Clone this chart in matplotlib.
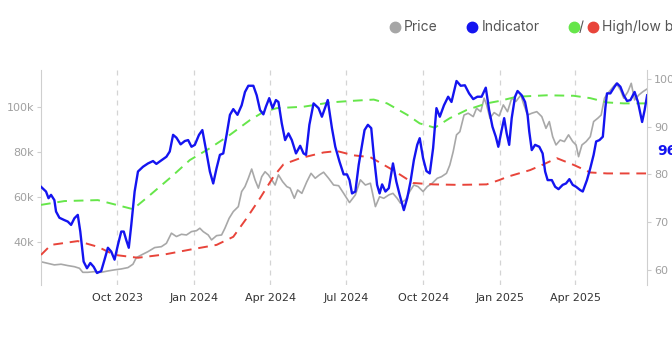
import matplotlib
matplotlib.use("Agg")
import matplotlib.pyplot as plt
import matplotlib.dates as mdates
from matplotlib.lines import Line2D
import pandas as pd

# day offsets are counted from this date
start = pd.Timestamp("2023-07-01")

# price (left axis, thousands of USD)
price_days = [1, 9, 17, 25, 33, 41, 47, 51, 57, 65, 73, 81, 89, 97, 105, 111, 115, 121, 129, 137,
              145, 151, 157, 163, 169, 175, 181, 187, 191, 195, 201, 205, 211, 217, 221, 226, 231,
              237, 241, 245, 249, 253, 257, 261, 265, 269, 273, 277, 281, 285, 290, 295, 299, 304,
              308, 313, 319, 324, 329, 334, 339, 345, 351, 357, 363, 370, 377, 383, 389, 395, 401,
              406, 411, 417, 422, 427, 431, 437, 442, 447, 452, 458, 463, 469, 475, 480, 486, 490,
              494, 498, 502, 507, 512, 518, 522, 527, 531, 534, 538, 543, 549, 554, 559, 564, 569,
              575, 578, 583, 588, 594, 600, 605, 609, 613, 617, 622, 627, 632, 637, 641, 644, 648,
              653, 658, 662, 667, 671, 675, 679, 684, 689, 694, 698, 703, 707, 711, 716, 721, 726]
price = [31.2, 30.5, 29.8, 30.1, 29.5, 29.0, 28.3, 26.5, 26.5, 26.8, 26.5, 27.1, 27.6, 28.0, 28.6,
         30.1, 33.0, 34.2, 35.7, 37.5, 37.9, 39.4, 43.9, 42.4, 43.4, 43.1, 44.6, 45.0, 46.1, 44.6,
         43.1, 40.9, 42.8, 43.1, 46.1, 50.5, 53.5, 55.7, 62.4, 64.6, 68.3, 72.4, 67.6, 63.9, 69.0,
         71.2, 69.8, 67.6, 65.3, 69.8, 66.8, 64.6, 63.9, 59.4, 63.1, 61.6, 66.8, 70.5, 68.3, 69.8,
         71.0, 68.3, 65.3, 65.0, 61.6, 57.5, 60.9, 67.6, 65.3, 66.1, 55.7, 60.1, 59.4, 60.9, 61.6,
         59.4, 57.2, 58.7, 62.4, 65.3, 64.6, 62.4, 64.6, 66.1, 68.3, 69.0, 70.5, 74.2, 80.1, 87.6,
         89.0, 96.4, 97.2, 95.7, 99.4, 97.9, 103.9, 100.9, 95.0, 97.5, 96.0, 100.9, 97.9, 103.9,
         102.4, 105.3, 101.6, 96.4, 97.2, 97.9, 95.7, 90.5, 93.5, 86.8, 83.1, 85.3, 84.6, 87.6,
         84.6, 83.1, 77.9, 83.1, 84.6, 86.8, 93.5, 95.0, 96.4, 103.9, 106.1, 108.3, 110.5, 107.6,
         103.9, 106.8, 110.5, 103.1, 105.3, 106.8, 108.0]

# indicator (right axis)
ind_days = [1, 7, 10, 13, 17, 19, 23, 29, 33, 37, 41, 45, 48, 52, 56, 60, 64, 68, 73, 77, 81, 85,
            89, 93, 97, 100, 103, 106, 109, 113, 117, 123, 129, 135, 139, 143, 147, 151, 155, 159,
            163, 168, 173, 177, 181, 185, 190, 194, 198, 203, 207, 211, 215, 219, 223, 227, 231,
            236, 241, 245, 249, 255, 259, 263, 267, 270, 274, 278, 282, 285, 289, 293, 297, 301,
            306, 311, 315, 318, 322, 327, 333, 337, 344, 349, 353, 358, 363, 367, 370, 373, 377,
            381, 385, 388, 392, 396, 399, 403, 406, 409, 413, 417, 422, 426, 430, 435, 439, 443,
            447, 451, 454, 458, 462, 466, 470, 474, 478, 483, 488, 492, 498, 503, 508, 513, 518,
            523, 528, 533, 537, 541, 545, 548, 552, 555, 558, 561, 564, 568, 571, 576, 580, 583,
            585, 588, 592, 597, 601, 604, 607, 612, 616, 620, 625, 629, 633, 637, 641, 646, 649,
            654, 658, 662, 665, 669, 673, 676, 678, 682, 687, 690, 694, 698, 702, 706, 711, 715,
            720, 723, 726]
indicator = [77.4, 76.4, 75.0, 75.7, 74.6, 72.2, 70.9, 70.4, 70.1, 69.4, 70.8, 71.5, 68.0, 61.7,
             60.3, 61.4, 60.6, 59.3, 59.7, 62.1, 64.6, 63.8, 62.1, 65.2, 68.0, 68.0, 66.2, 64.6,
             69.4, 76.4, 80.6, 81.6, 82.3, 82.8, 82.2, 82.7, 83.2, 83.7, 84.8, 88.3, 87.7, 86.3,
             87.0, 87.2, 85.8, 86.2, 88.3, 89.3, 85.5, 80.6, 78.1, 81.3, 84.1, 84.4, 88.3, 92.5,
             93.7, 92.5, 94.5, 97.3, 98.6, 98.6, 96.6, 93.5, 92.6, 94.2, 96.0, 93.9, 95.6, 95.2,
             90.7, 87.2, 88.6, 87.2, 84.4, 86.0, 84.4, 84.1, 90.4, 94.9, 93.9, 92.1, 95.6, 89.7,
             85.8, 82.7, 80.0, 80.0, 78.8, 76.0, 76.4, 82.0, 86.2, 89.3, 90.4, 89.7, 84.1, 77.8,
             76.0, 77.9, 76.4, 77.1, 82.3, 78.5, 75.7, 72.5, 75.0, 78.5, 83.0, 86.2, 87.6, 83.4,
             80.7, 80.2, 85.5, 93.9, 92.1, 94.5, 96.3, 95.2, 99.6, 98.6, 98.7, 97.0, 95.8, 96.3,
             96.3, 98.2, 93.5, 90.0, 87.9, 85.8, 89.3, 91.8, 88.6, 86.2, 91.8, 96.3, 97.5, 96.6,
             95.2, 92.5, 89.0, 85.1, 86.2, 85.8, 84.4, 80.6, 78.8, 78.8, 77.4, 76.9, 77.8, 78.1,
             79.0, 77.8, 77.4, 76.7, 76.4, 78.8, 81.3, 84.1, 86.9, 87.2, 87.9, 93.9, 97.0, 97.0,
             98.4, 99.1, 98.4, 96.6, 95.4, 95.6, 97.3, 95.2, 91.0, 93.5, 96.6]

# high band (right axis)
high_days = [1, 29, 69, 89, 111, 129, 157, 179, 203, 227, 251, 267, 283, 315, 347, 370, 399, 415,
             439, 454, 472, 490, 510, 534, 549, 570, 606, 638, 658, 678, 698, 726]
high = [73.6, 74.4, 74.6, 73.7, 72.7, 75.3, 79.5, 83.0, 85.5, 88.3, 91.4, 93.1, 93.9, 94.2, 95.1,
        95.4, 95.7, 94.9, 92.5, 90.7, 89.8, 91.8, 93.5, 94.9, 95.4, 96.3, 96.6, 96.5, 96.0, 95.1,
        94.9, 94.9]

# low band (right axis)
low_days = [1, 13, 45, 69, 89, 117, 149, 179, 211, 231, 247, 263, 279, 291, 311, 339, 355, 375,
            395, 422, 446, 470, 500, 534, 549, 559, 586, 602, 618, 638, 658, 678, 726]
low = [63.1, 65.2, 66.0, 64.8, 63.1, 62.5, 63.2, 64.2, 65.2, 66.9, 70.8, 75.0, 79.5, 82.1, 83.4,
       84.6, 84.9, 84.0, 83.6, 80.9, 78.2, 77.9, 77.8, 77.9, 78.8, 79.5, 80.9, 82.1, 83.4, 82.0,
       80.4, 80.2, 80.2]

last_label = "96"


def to_dates(days):
    return start + pd.to_timedelta(days, unit="D")


GRAY = "#a8a8a8"
BLUE = "#1414f0"
GREEN = "#66e64a"
RED = "#e8443a"

fig = plt.figure(figsize=(6.72, 3.4), dpi=100)
ax = fig.add_axes([0.061, 0.162, 0.902, 0.632])
ax2 = ax.twinx()

ax.plot(to_dates(price_days), [p * 1000 for p in price], color=GRAY, lw=1.2)
ax2.plot(to_dates(high_days), high, color=GREEN, lw=1.4, ls=(0, (5, 3.5)))
ax2.plot(to_dates(low_days), low, color=RED, lw=1.4, ls=(0, (5, 3.5)))
ax2.plot(to_dates(ind_days), indicator, color=BLUE, lw=1.7)

ax.set_xlim(pd.Timestamp("2023-07-02"), pd.Timestamp("2025-06-26"))
ax.set_ylim(20900, 116400)
ax2.set_ylim(56.8, 101.9)

ax.xaxis.set_major_locator(mdates.MonthLocator(bymonth=[1, 4, 7, 10]))
ax.xaxis.set_major_formatter(mdates.DateFormatter("%b %Y"))
ax.set_yticks([40000, 60000, 80000, 100000])
ax.set_yticklabels(["40k", "60k", "80k", "100k"])
ax2.set_yticks([60, 70, 80, 90, 100])

ax.grid(axis="x", color="#d4d4d4", ls=(0, (4, 4)), lw=0.9)
for a in (ax, ax2):
    for s in ("top", "bottom"):
        a.spines[s].set_visible(False)
ax.spines["left"].set_color("#cfcfcf")
ax.spines["right"].set_visible(False)
ax2.spines["left"].set_visible(False)
ax2.spines["right"].set_color("#cfcfcf")

ax.tick_params(axis="x", length=0, pad=6, labelsize=8, labelcolor="#333333")
ax.tick_params(axis="y", length=3, color="#cfcfcf", labelsize=8, labelcolor="#a0a0a0", pad=2)
ax2.tick_params(axis="y", length=3, color="#cfcfcf", labelsize=8, labelcolor="#a0a0a0", pad=2)

fig.text(657 / 672, 1 - 151 / 340, last_label, color=BLUE, fontsize=10, fontweight="bold",
         va="center", ha="left")

# legend row across the top
def dot(x, color):
    fig.add_artist(Line2D([x / 672], [1 - 27 / 340], marker="o", ms=7.5, color=color, lw=0,
                          transform=fig.transFigure))

leg_font = dict(fontsize=10, color="#555555", family="Inter", va="center", ha="left")
dot(395, "#a6a6a6")
fig.text(404 / 672, 1 - 27 / 340, "Price", **leg_font)
dot(472, BLUE)
fig.text(482 / 672, 1 - 27 / 340, "Indicator", **leg_font)
dot(574, GREEN)
fig.text(579 / 672, 1 - 27 / 340, "/", **leg_font)
dot(593, RED)
fig.text(602 / 672, 1 - 27 / 340, "High/low bands", **leg_font)

fig.savefig("out.png", dpi=100)
